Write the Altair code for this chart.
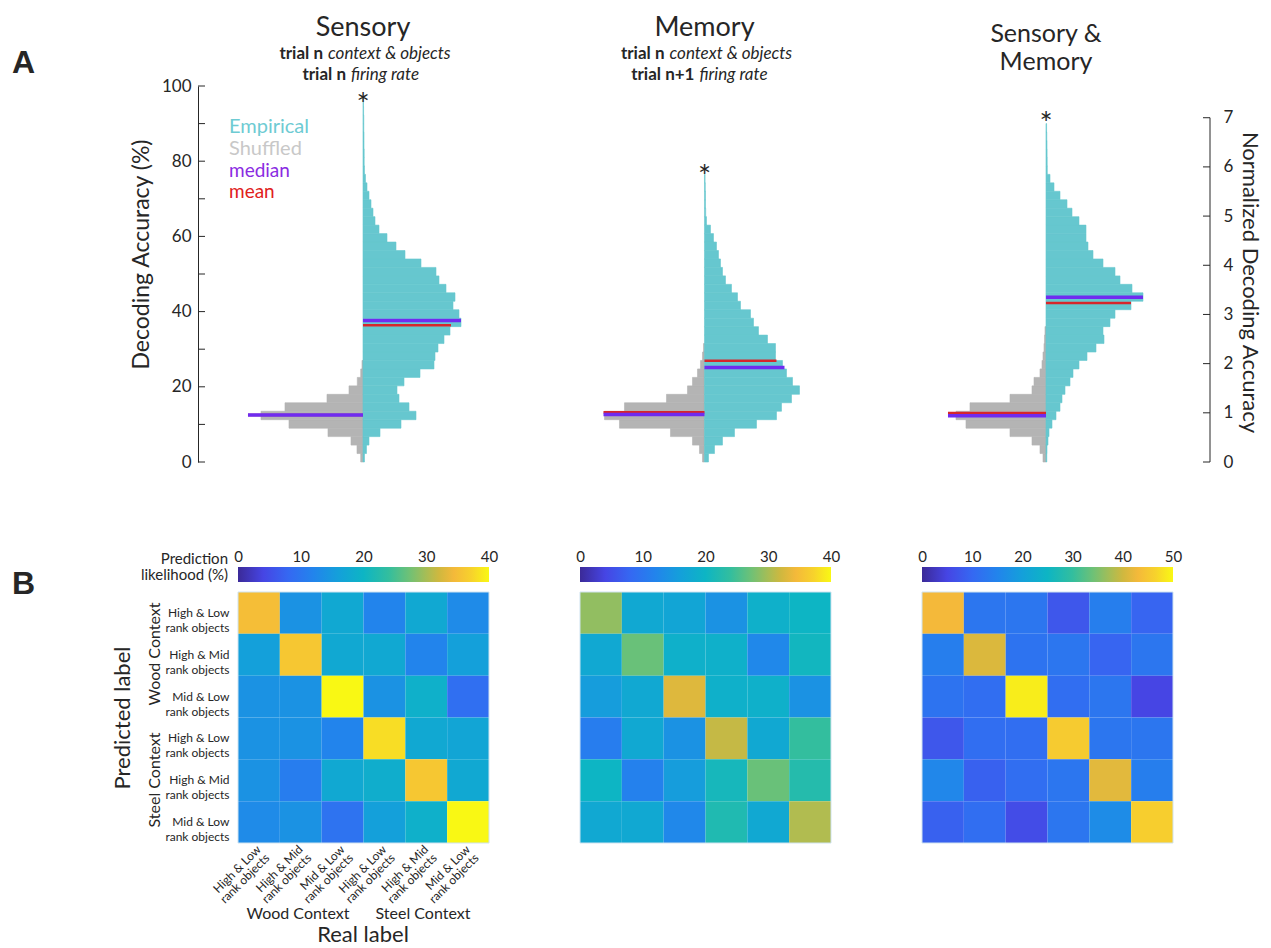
import altair as alt
import pandas as pd

FONT = "Lato"
TXT = "#262626"
CYAN = "#66c7cf"
GRAY = "#b4b4b4"
MEDIAN_C = "#6f2cf0"
MEAN_C = "#d7262b"

# ---------------- Panel A data ----------------
PANEL_POS = [0, 1, 2]          # x positions of the three distributions
BIN = 2.25                     # histogram bin width (% accuracy)
PX = 341.5                     # x-scale: pixels per panel unit (for half-violin widths)

# half-histogram widths (relative units) per bin, starting at 0 %
sens_emp = [1.5, 3.5, 6, 17, 38, 53, 46, 36, 34, 41, 57, 71, 72, 75, 81, 87, 98, 96, 90, 92,
            83, 76, 73, 58, 42, 33, 24, 16, 12, 10, 8, 6, 4, 2.5, 1.5, 1.2, 1.2, 1, 1, 0.8,
            0.8, 0.6, 0.5]
sens_shuf = [2.3, 6, 12, 35, 74, 102, 78, 36, 14, 5.7, 2.3, 1]
mem_emp = [4, 10, 18, 30, 52, 72, 77, 87, 95, 88, 82, 78, 71, 71, 63, 54, 49, 46, 36, 33,
           27, 21, 18, 16, 14, 12, 9, 6, 2, 1.2, 1, 1, 0.8, 0.6]
mem_shuf = [2, 5, 12, 34, 85, 100, 80, 38, 17, 12, 7, 4, 2, 1]
se_emp = [0.8, 1, 2, 3, 6, 10, 14, 16, 19, 24, 27, 33, 41, 50, 58, 57, 64, 69, 85, 97,
          86, 74, 69, 57, 47, 42, 40, 40, 33, 26, 21, 14, 8, 4, 1.3, 1.2, 1.1, 1, 0.8, 0.6]
se_shuf = [3, 6, 14, 36, 80, 90, 76, 36, 14, 12, 6, 4, 3, 2, 1.5, 1]

# median / mean lines: (panel, side, stat, value, length)
stat_panel = [0, 0, 0, 0, 1, 1, 1, 1, 2, 2, 2, 2]
stat_side = [-1, -1, 1, 1, -1, -1, 1, 1, -1, -1, 1, 1]
stat_kind = ["mean", "median"] * 6
stat_value = [12.5, 12.5, 36.4, 37.6, 13.2, 12.6, 26.9, 25.1, 13.0, 12.3, 42.3, 43.8]
stat_len = [115, 115, 88, 98, 101, 101, 72, 80, 98, 98, 85, 97]

asterisk_y = [97.0, 78.0, 92.0]
left_ticks = [0, 10, 20, 30, 40, 50, 60, 70, 80, 90, 100]
left_labels = [0, 20, 40, 60, 80, 100]
right_ticks = [0, 1, 2, 3, 4, 5, 6, 7]
RIGHT_MAX = 7.645   # normalized accuracy at 100 %

# ---------------- Panel B data ----------------
class_line1 = ["High & Low", "High & Mid", "Mid & Low", "High & Low", "High & Mid", "Mid & Low"]
class_line2 = ["rank objects"] * 6

cm_sensory = [
    [35, 14, 17.5, 12, 17.5, 13],
    [16, 36, 17.5, 17.5, 12, 16],
    [14, 14, 40, 14, 19, 9],
    [14, 14, 12, 38, 17.5, 17],
    [14, 11, 17.5, 18.5, 36, 17.5],
    [13, 14, 9.5, 16, 19, 40],
]
cm_memory = [
    [29, 17.5, 17, 14, 19, 20],
    [17.5, 27, 19, 19, 12.5, 20.5],
    [15.5, 17.5, 33, 19, 19, 14],
    [11, 17.5, 14, 31.5, 17.5, 24],
    [20, 11.5, 15.5, 21, 27, 22.5],
    [17.5, 17.5, 12.5, 22, 17.5, 30.5],
]
cm_both = [
    [43, 12.5, 12.5, 7.5, 14, 9.5],
    [14, 41, 12, 12.5, 9.5, 12.5],
    [12, 11, 49, 11, 12.5, 5],
    [7.5, 11, 11, 45.5, 12.5, 12.5],
    [15.5, 9, 11, 12.5, 41.5, 14],
    [9, 11, 6, 12.5, 16.5, 46],
]
cm_max = [40, 40, 50]
cm_ticks = [[0, 10, 20, 30, 40], [0, 10, 20, 30, 40], [0, 10, 20, 30, 40, 50]]

CMAP_STOPS = [0, 0.1, 0.2, 0.3, 0.4, 0.5, 0.6, 0.68, 0.75, 0.8, 0.86, 0.93, 1.0]
CMAP_COLORS = ["#3b2a98", "#4645e4", "#3568f2", "#2284ec", "#14a0da", "#0db5c4", "#33be9e",
               "#6dc177", "#a7bd55", "#cfb83f", "#f4b93a", "#f7d22c", "#f9f814"]

# ---------------- Panel A chart ----------------
TOP_W = 972        # plot area (the left axis is drawn 40 px further left via offset)
AX_OFF = 40
XS = alt.Scale(domain=[-0.366, -0.366 + TOP_W / PX], nice=False, zero=False)
YS = alt.Scale(domain=[0, 100], nice=False, zero=False)
YR = alt.Scale(domain=[0, RIGHT_MAX], nice=False, zero=False)

left_axis = alt.Axis(values=left_labels, ticks=False, grid=False, domainColor=TXT, offset=AX_OFF,
                     labelFont=FONT, labelFontSize=17, labelColor=TXT, labelPadding=7,
                     title="Decoding Accuracy (%)", titleFont=FONT, titleFontSize=23,
                     titleFontWeight="normal", titleColor=TXT, titlePadding=8, titleY=168)
right_axis = alt.Axis(orient="right", values=right_ticks, ticks=False, domain=False, grid=False,
                      labelFont=FONT, labelFontSize=17, labelColor=TXT, labelPadding=13,
                      title="Normalized Decoding Accuracy", titleFont=FONT, titleFontSize=22,
                      titleFontWeight="normal", titleColor=TXT, titlePadding=5, titleY=196)

hist_rows = []
for p, (emp, shuf) in enumerate([(sens_emp, sens_shuf), (mem_emp, mem_shuf), (se_emp, se_shuf)]):
    for vals, sign, col in [(shuf, -1, GRAY), (emp, 1, CYAN)]:
        for i, w in enumerate(vals):
            hist_rows.append({"x0": PANEL_POS[p], "x1": PANEL_POS[p] + sign * w / PX,
                              "lo": i * BIN, "hi": (i + 1) * BIN, "col": col})
hist_df = pd.DataFrame(hist_rows)

stat_df = pd.DataFrame({
    "x0": [PANEL_POS[p] for p in stat_panel],
    "x1": [PANEL_POS[p] + s * L / PX for p, s, L in zip(stat_panel, stat_side, stat_len)],
    "v": stat_value,
    "col": [MEDIAN_C if k == "median" else MEAN_C for k in stat_kind],
    "sw": [3.5 if k == "median" else 2.5 for k in stat_kind],
})

hist = alt.Chart(hist_df).mark_rect(strokeWidth=0.6).encode(
    x=alt.X("x0:Q", scale=XS, axis=None), x2="x1:Q",
    y=alt.Y("lo:Q", scale=YS, axis=left_axis), y2="hi:Q",
    fill=alt.Fill("col:N", scale=None), stroke=alt.Stroke("col:N", scale=None))

stats = alt.Chart(stat_df).mark_rule().encode(
    x=alt.X("x0:Q", scale=XS, axis=None), x2="x1:Q",
    y=alt.Y("v:Q", scale=YS, axis=left_axis),
    color=alt.Color("col:N", scale=None), strokeWidth=alt.StrokeWidth("sw:Q", scale=None))

ast = alt.Chart(pd.DataFrame({"c": PANEL_POS, "a": asterisk_y})).mark_text(
    text="*", font=FONT, fontSize=31, color=TXT, baseline="middle", dy=9).encode(
    x=alt.X("c:Q", scale=XS, axis=None), y=alt.Y("a:Q", scale=YS, axis=left_axis))

lticks = alt.Chart(pd.DataFrame({"t": left_ticks})).mark_rule(color=TXT, strokeWidth=1).encode(
    y=alt.Y("t:Q", scale=YS, axis=left_axis), x=alt.value(-AX_OFF), x2=alt.value(-AX_OFF + 7))


def ptext(panel, text, ybase, size, weight="normal", style="normal", align="center", dx=0,
          color=TXT):
    return alt.Chart(pd.DataFrame({"c": [PANEL_POS[panel]]})).mark_text(
        text=text, font=FONT, fontSize=size, fontWeight=weight, fontStyle=style, align=align,
        baseline="alphabetic", dx=dx, color=color).encode(
        x=alt.X("c:Q", scale=XS, axis=None), y=alt.value(ybase))


def vtext(text, x, y, size, color=TXT, weight="normal", align="left", baseline="alphabetic",
          angle=0, font=FONT):
    return alt.Chart(pd.DataFrame({"d": [0]})).mark_text(
        text=text, font=font, fontSize=size, fontWeight=weight, color=color, align=align,
        baseline=baseline, angle=angle).encode(x=alt.value(x), y=alt.value(y))


titles = [
    ptext(0, "Sensory", -50, 27),
    ptext(0, "trial n", -27, 17, weight="bold", align="right", dx=-40),
    ptext(0, "context & objects", -27, 17, style="italic", align="left", dx=-35),
    ptext(0, "trial n", -6, 17, weight="bold", align="right", dx=-17),
    ptext(0, "firing rate", -6, 17, style="italic", align="left", dx=-12),
    ptext(1, "Memory", -50, 27),
    ptext(1, "trial n", -27, 17, weight="bold", align="right", dx=-40),
    ptext(1, "context & objects", -27, 17, style="italic", align="left", dx=-35),
    ptext(1, "trial n+1", -6, 17, weight="bold", align="right", dx=-10),
    ptext(1, "firing rate", -6, 17, style="italic", align="left", dx=-5),
    ptext(2, "Sensory &", -44, 25),
    ptext(2, "Memory", -16, 25),
]
legend_txt = [
    vtext("Empirical", 31 - AX_OFF, 47, 20, color="#6ecbd3"),
    vtext("Shuffled", 31 - AX_OFF, 69, 20, color="#c8c8c8"),
    vtext("median", 31 - AX_OFF, 91, 19, color="#8a2be2"),
    vtext("mean", 31 - AX_OFF, 112, 19, color="#e0201b"),
    vtext("A", -226, -23, 32, weight="bold", baseline="middle", font="Liberation Sans"),
]

left_group = alt.layer(hist, stats, ast, lticks, *titles, *legend_txt)

rticks = alt.Chart(pd.DataFrame({"t": right_ticks})).mark_rule(color=TXT, strokeWidth=1).encode(
    y=alt.Y("t:Q", scale=YR, axis=right_axis), x=alt.value(TOP_W - 7), x2=alt.value(TOP_W))
rline = alt.Chart(pd.DataFrame({"a": [0], "b": [7]})).mark_rule(color=TXT, strokeWidth=1).encode(
    y=alt.Y("a:Q", scale=YR, axis=right_axis), y2="b:Q", x=alt.value(TOP_W))
right_group = alt.layer(rticks, rline)

top = alt.layer(left_group, right_group).resolve_scale(y="independent").properties(
    width=TOP_W, height=376)

# ---------------- Panel B chart ----------------
label_expr = "[" + ",".join(f"['{a}','{b}']" for a, b in zip(class_line1, class_line2)) + "][datum.value]"


def cm_panel(mat, vmax, ticks, first):
    df = pd.DataFrame([{"row": r, "col": c, "v": mat[r][c]} for r in range(6) for c in range(6)])
    cscale = alt.Scale(domain=[s * vmax for s in CMAP_STOPS], range=CMAP_COLORS,
                       interpolate="rgb")
    xaxis = alt.Axis(labelExpr=label_expr, labelAngle=315, labelAlign="right",
                     labelBaseline="middle", ticks=False, domain=False, labelPadding=4,
                     labelFont=FONT, labelFontSize=12, labelColor=TXT, labelLineHeight=12,
                     title=None) if first else None
    yaxis = alt.Axis(labelExpr=label_expr, ticks=False, domain=False, labelPadding=9,
                     labelFont=FONT, labelFontSize=12, labelColor=TXT, labelLineHeight=15,
                     title=None) if first else None
    hm = alt.Chart(df).mark_rect().encode(
        x=alt.X("col:O", axis=xaxis),
        y=alt.Y("row:O", axis=yaxis),
        color=alt.Color("v:Q", scale=cscale, legend=None))
    frame = alt.Chart(pd.DataFrame({"d": [0]})).mark_rect(
        fill="transparent", stroke="#cfe3f0", strokeWidth=1).encode(
        x=alt.value(0), x2=alt.value(251), y=alt.value(0), y2=alt.value(251))
    grad = alt.Gradient(gradient="linear", x1=0, x2=1, y1=0, y2=0,
                        stops=[alt.GradientStop(offset=s, color=c)
                               for s, c in zip(CMAP_STOPS, CMAP_COLORS)])
    cb = alt.Chart(pd.DataFrame({"lo": [0], "hi": [vmax]})).mark_rect(fill=grad).encode(
        x=alt.X("lo:Q", scale=alt.Scale(domain=[0, vmax], nice=False, zero=False),
                axis=alt.Axis(orient="top", values=ticks, ticks=False, domain=False, grid=False,
                              labelFlush=False, labelPadding=3, offset=25, labelFont=FONT,
                              labelFontSize=15, labelColor=TXT, title=None)),
        x2="hi:Q", y=alt.value(-25), y2=alt.value(-10))
    layers = [hm, frame, cb]
    if first:
        layers += [
            vtext("Prediction", -10, -33, 15, align="right", baseline="middle"),
            vtext("likelihood (%)", -10, -17, 15, align="right", baseline="middle"),
            vtext("B", -226, -8, 32, weight="bold", baseline="middle", font="Liberation Sans"),
            vtext("Predicted label", -115, 126, 22, align="center", baseline="middle", angle=270),
            vtext("Wood Context", -83, 62, 16, align="center", baseline="middle", angle=270),
            vtext("Steel Context", -83, 188, 16, align="center", baseline="middle", angle=270),
            vtext("Wood Context", 60, 322, 16, align="center", baseline="middle"),
            vtext("Steel Context", 185, 322, 16, align="center", baseline="middle"),
            vtext("Real label", 125, 343, 22, align="center", baseline="middle"),
        ]
    return alt.layer(*layers).resolve_scale(x="independent", y="independent",
                                             color="independent").properties(width=251, height=251)


bottom = alt.hconcat(
    cm_panel(cm_sensory, cm_max[0], cm_ticks[0], True),
    cm_panel(cm_memory, cm_max[1], cm_ticks[1], False),
    cm_panel(cm_both, cm_max[2], cm_ticks[2], False),
    spacing=77)

chart = alt.vconcat(top, bottom, spacing=79).properties(
    padding={"left": 12, "top": 14, "right": 5, "bottom": 0}
).configure(font=FONT, view=alt.ViewConfig(strokeWidth=0, stroke="transparent"))

chart.save("out.html", embed_options={"renderer": "svg", "actions": False})
